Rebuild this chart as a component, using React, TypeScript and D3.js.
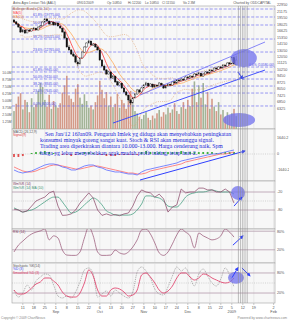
import React from "react";
import * as d3 from "d3";

// ---- calendar: one entry per week (label of its Monday, month caption, number of sessions)
const weekDays = ["", "11", "18", "25", "1", "8", "15", "22", "6", "13", "20", "27", "3", "10", "17", "24", "1", "8", "15", "22", "5", "12", "19", "", "2"];
const weekMonths = ["", "", "", "", "Sep", "", "", "", "Oct", "", "", "", "Nov", "", "", "", "Dec", "", "", "", "2009", "", "", "", "Feb"];
const weekSessions = [4, 5, 5, 5, 5, 5, 5, 5, 5, 5, 5, 5, 5, 5, 5, 5, 5, 5, 5, 5, 5, 5, 5, 4, 1];

// ---- daily prices [open, high, low, close]
const ohlc = [
  [19050, 19300, 18350, 18570], [18600, 18800, 17900, 18110], [18100, 18300, 17300, 17450], [17400, 17500, 16200, 16390],
  [16400, 17000, 16300, 16805], [16800, 16900, 16000, 16185], [16200, 16950, 16150, 16805], [16800, 17000, 16450, 16595],
  [16600, 17150, 16500, 17015], [17000, 17400, 16900, 17230], [17200, 17300, 16700, 16805], [16800, 17550, 16750, 17450],
  [17450, 17900, 17350, 17670], [17700, 18700, 17650, 18570], [18550, 19500, 18500, 19290], [19300, 19400, 18700, 18805],
  [18800, 18900, 18000, 18110], [18100, 18700, 18050, 18570], [18550, 18650, 17800, 17890], [17900, 18450, 17850, 18340],
  [18350, 18400, 17600, 17670], [17650, 17800, 17100, 17230], [17200, 17300, 16300, 16390], [16400, 16500, 15100, 15205],
  [15200, 15300, 13500, 13590], [13600, 13900, 13000, 13090], [13100, 13200, 12300, 12450], [12450, 12700, 12000, 12145],
  [12150, 12300, 11100, 11265], [11250, 11500, 10700, 10990], [11000, 11950, 10950, 11840], [11850, 12850, 11800, 12765],
  [12750, 13700, 12700, 13590], [13600, 14400, 13500, 14285], [14300, 14900, 14200, 14645], [14650, 14700, 13850, 13930],
  [13900, 14300, 13800, 14105], [14100, 14200, 13500, 13590], [13600, 13700, 13000, 13090], [13100, 13150, 11450, 11550],
  [11550, 11700, 10600, 10715], [10700, 10900, 10100, 10195], [10200, 10300, 9600, 9700], [9700, 10100, 9650, 9945],
  [9950, 10000, 9150, 9225], [9200, 9600, 9100, 9460], [9450, 9500, 8700, 8780], [8800, 8900, 8350, 8455],
  [8450, 8800, 8400, 8670], [8650, 8700, 8050, 8145], [8150, 8200, 7650, 7750], [7750, 7850, 7350, 7465],
  [7450, 7500, 6900, 7010], [7000, 7100, 6600, 6755], [6750, 7250, 6700, 7190], [7200, 7650, 7150, 7560],
  [7550, 8050, 7500, 7945], [7950, 8000, 7650, 7750], [7750, 8250, 7700, 8145], [8150, 8550, 8100, 8455],
  [8450, 8800, 8400, 8670], [8650, 8700, 8250, 8350], [8350, 8650, 8300, 8560], [8550, 8600, 8150, 8250],
  [8250, 8550, 8200, 8455], [8450, 8500, 8250, 8350], [8350, 8750, 8300, 8670], [8650, 8700, 8400, 8455],
  [8450, 8500, 8050, 8145], [8150, 8450, 8100, 8350], [8350, 8650, 8300, 8560], [8550, 8600, 8350, 8455],
  [8450, 8850, 8400, 8780], [8800, 8850, 8600, 8670], [8650, 9100, 8600, 9000], [9000, 9050, 8800, 8890],
  [8900, 9200, 8850, 9110], [9100, 9150, 8900, 9000], [9000, 9450, 8950, 9340], [9350, 9400, 9150, 9225],
  [9200, 9550, 9150, 9460], [9450, 9500, 9250, 9340], [9350, 9800, 9300, 9700], [9700, 9750, 9500, 9580],
  [9600, 9950, 9550, 9820], [9800, 9850, 9400, 9460], [9450, 9800, 9400, 9700], [9700, 10050, 9650, 9945],
  [9950, 10000, 9750, 9820], [9800, 10300, 9750, 10195], [10200, 10250, 10000, 10070], [10050, 10550, 10000, 10455],
  [10450, 10500, 10250, 10325], [10300, 10700, 10250, 10585], [10600, 10650, 10400, 10455], [10450, 10950, 10400, 10850],
  [10850, 10900, 10650, 10715], [10700, 11200, 10650, 11130], [11150, 11200, 10900, 10990], [11000, 12000, 10950, 11900],
  [11900, 12100, 10900, 11000], [10850, 12200, 10850, 11550],
];

// volume in millions of shares
const volume = [
  3.2, 4.5, 5.8, 6.4, 3.5, 5.2, 4.8, 3.0, 5.5, 3.9,
  4.4, 6.8, 8.2, 7.5, 5.2, 4.0, 6.1, 3.6, 5.0, 4.2,
  3.8, 4.6, 6.5, 7.8, 9.5, 6.0, 5.4, 4.8, 7.2, 8.0,
  5.6, 4.5, 6.2, 5.0, 3.8, 4.2, 3.5, 4.8, 6.0, 8.6,
  7.0, 5.5, 6.6, 4.2, 5.8, 3.9, 4.5, 6.3, 3.8, 5.2,
  4.6, 3.6, 5.0, 6.8, 4.4, 3.2, 2.8, 2.2, 1.8, 2.5,
  3.0, 2.0, 1.6, 2.4, 1.9, 2.8, 3.4, 2.2, 3.0, 2.6,
  3.8, 2.9, 3.5, 4.6, 3.2, 2.7, 3.9, 4.8, 3.6, 5.2,
  4.1, 7.2, 8.5, 4.8, 7.8, 5.6, 8.2, 4.4, 6.6, 3.6,
  5.4, 4.0, 3.2, 4.8, 2.6, 3.4, 2.2, 3.0, 2.4, 2.8,
  3.6, 2.3,
];

// indicators, read every second session
const macdLine = [-1640, -1845, -1950, -1845, -1740, -1540, -1330, -1130, -1025, -1025, -1130, -1330, -1435, -1640, -1640, -1435, -1230, -1130, -1130, -1330, -1435, -1640, -1740, -1845, -1845, -1950, -2050, -2050, -2150, -1845, -1640, -1540, -1435, -1330, -1230, -1130, -1025, -920, -720, -615, -510, -410, -310, -205, -100, 0, 0, 100, 205, 310, 410];
const signalLine = [-1330, -1540, -1740, -1845, -1845, -1740, -1540, -1435, -1230, -1130, -1130, -1230, -1330, -1435, -1540, -1540, -1435, -1330, -1230, -1230, -1330, -1435, -1540, -1640, -1740, -1845, -1950, -1950, -2050, -2050, -1950, -1740, -1640, -1540, -1435, -1330, -1230, -1130, -1025, -820, -720, -615, -510, -410, -310, -205, -100, 0, 0, 100, 205];
const wmR = [-77, -80, -87, -83, -67, -50, -43, -37, -23, -17, -67, -98, -97, -93, -80, -57, -40, -23, -40, -80, -98, -93, -98, -95, -99, -93, -90, -67, -33, -13, -20, -23, -37, -27, -43, -87, -70, -63, -10, -23, -20, -20, -7, -7, -13, -13, -20, -20, -10, -20, -57];
const wmRMa = [-73, -80, -87, -83, -80, -73, -63, -53, -43, -37, -37, -53, -73, -90, -87, -77, -63, -50, -40, -47, -63, -83, -90, -97, -97, -97, -97, -93, -80, -60, -33, -33, -37, -40, -50, -67, -70, -70, -57, -37, -27, -23, -20, -20, -17, -13, -17, -20, -20, -20, -27];
const rsi = [13, 35, 48, 61, 71, 77, 81, 87, 52, 65, 58, 19, 3, 2, 2, 13, 58, 94, 65, 13, 2, 2, 3, 19, 10, 6, 13, 29, 52, 84, 87, 71, 42, 10, 2, 13, 39, 68, 87, 77, 65, 26, 74, 65, 58, 52, 55, 65, 87, 77, 61];
const stochK = [29, 8, 20, 44, 29, 56, 68, 77, 74, 44, 11, 5, 11, 5, 23, 53, 89, 95, 77, 8, 17, 26, 11, 29, 20, 11, 5, 23, 83, 98, 86, 65, 32, 17, 14, 38, 71, 98, 86, 95, 68, 41, 77, 92, 71, 50, 41, 62, 95, 74, 38];
const stochD = [29, 17, 17, 23, 35, 47, 53, 65, 65, 56, 44, 23, 11, 8, 8, 20, 50, 89, 71, 29, 11, 11, 29, 35, 32, 23, 11, 14, 29, 74, 80, 68, 50, 29, 20, 26, 41, 65, 80, 80, 68, 59, 65, 77, 74, 65, 59, 53, 50, 53, 65];

const priceTicks = [22950, 21175, 19550, 18025, 16625, 15350, 14150, 13050, 12050, 11125, 10250, 9450, 8725, 8050, 7425, 6850, 6325];
const volTicks = [1.25, 2.5, 3.75, 5, 6.25, 7.5, 8.75, 10];
const fibPrices = [21850, 19775, 17890, 15015, 12765, 10580, 9945, 9110, 8345, 7645, 6505];
const fibNames = ["", "61.8%", "50.0%", "38.2%", "23.6%", "0.0%", "61.8%", "50.0%", "38.2%", "23.6%", "0.0%"];

const noteLines = [
  "Sen Jan/12 16Jan09. Pengaruh Imlek yg diduga akan menyebabkan peningkatan",
  "konsumsi minyak goreng sangat kuat. Stoch & RSI akan menunggu signal.",
  "Trading area diperkirakan diantara 10.000-13.000. Harga cenderung naik. Spm",
  "harga yg lebar menyebabkan agak mudah profit taking, tetap hati-2.",
];

// user drawn annotations, in data units (session, value)
const markedSessions = [102, 103, 104, 105, 106];
const channelUpper = [[57.3, 7455], [114.1, 14465]];
const channelLower = [[45, 5255], [114.1, 10193]];
const priceArrow = [[101.8, 9945], [104.1, 9110]];
const macdArrow = [[57.3, -2665], [105, 307]];
const wmrArrow = [[100, -67], [103.6, -37]];
const rsiArrow = [[99.5, 35], [104.1, 65]];
const stochArrows = [[[99.1, 66], [101.8, 96]], [[103.6, 95], [107.3, 71]]];

const L = 12, R = 275;
const P = { price: [6, 129], macd: [129, 181], wmr: [181, 229], rsi: [229, 263], stoch: [263, 303] };
const FONT = "Liberation Sans, Arial, sans-serif";
const BLUE = "#3040ff";
const BLOB = "#7070ee";

export default function App() {
  const weekStart = weekSessions.map((_, k) => d3.sum(weekSessions.slice(0, k)));
  const last = weekStart[weekStart.length - 1];
  const x = d3.scaleLinear().domain([0, last]).range([14, 273.6]);
  const y = d3.scaleLog().domain([5500, 23000]).range([119.4, 4.9]);
  const vy = d3.scaleLinear().domain([0, 10]).range([129, 73]);
  const my = d3.scaleLinear().domain([-1640.2, 1640.2]).range([170, 138]);
  const wy = d3.scaleLinear().domain([-100, 0]).range([216, 186]);
  const ry = d3.scaleLinear().domain([0, 100]).range([256, 225]);
  const sy = d3.scaleLinear().domain([0, 100]).range([299.7, 266.3]);

  const closes = ohlc.map((d) => d[3]);
  const sma = (n: number) => closes.map((_, i) => d3.mean(closes.slice(Math.max(0, i - n + 1), i + 1)) as number);
  const ma5 = sma(5);
  const ma20 = sma(10);
  const bands = closes.map((_, i) => {
    const w = closes.slice(Math.max(0, i - 19), i + 1);
    const m = d3.mean(w) as number;
    const s = d3.deviation(w) ?? 0;
    return [m + 2 * s, m - 2 * s];
  });

  const dailyLine = (sc: any) => d3.line<number>().x((_, i) => x(i)).y((v) => sc(v));
  const sampled = (sc: any, curve: any = d3.curveLinear) =>
    d3.line<number>().x((_, k) => x(k * 2)).y((v) => sc(v)).curve(curve);

  const seg = (pts: number[][], sc: any, key: string, w = 0.9) => (
    <line key={key} x1={x(pts[0][0])} y1={sc(pts[0][1])} x2={x(pts[1][0])} y2={sc(pts[1][1])}
      stroke={BLUE} strokeWidth={w} markerEnd="url(#arrow)" />
  );

  const panelBox = (key: string, [t, b]: number[]) => (
    <g key={key}>
      <rect x={L} y={t} width={R - L} height={b - t} fill="#f7f7f7" stroke="#a0a0a0" strokeWidth={0.6} />
      {weekStart.map((s, k) =>
        weekDays[k] ? <line key={k} x1={x(s)} x2={x(s)} y1={t} y2={b} stroke="#dadada" strokeWidth={0.5} /> : null
      )}
    </g>
  );

  const hLine = (v: number, sc: any, key: string, dotted = false) => (
    <line key={key} x1={L} x2={R} y1={sc(v)} y2={sc(v)} stroke={dotted ? "#b8b8b8" : "#b49aac"}
      strokeWidth={dotted ? 0.6 : 0.8} strokeDasharray={dotted ? "1,1.2" : undefined} />
  );

  const axisText = (v: string, yy: number, key: string) => (
    <text key={key} x={277} y={yy + 1.3} fontSize={3.7} fill="#555">{v}</text>
  );

  const hist = macdLine.map((m, k) => m - signalLine[k]);

  return (
    <svg width={289} height={320} style={{ position: "absolute", left: 0, top: 0, background: "#fff" }} fontFamily={FONT}>
      <defs>
        {Object.entries(P).map(([k, [t, b]]) => (
          <clipPath id={"clip-" + k} key={k}>
            <rect x={L} y={t} width={R - L} height={b - t} />
          </clipPath>
        ))}
        <marker id="arrow" viewBox="0 0 10 10" refX="8" refY="5" markerWidth="4" markerHeight="4" orient="auto">
          <path d="M0,0 L10,5 L0,10 z" fill={BLUE} />
        </marker>
      </defs>

      {/* title row */}
      <g fontSize={3.3} fill="#555">
        <text x={13} y={4.4}>Astra Agro Lestari Tbk (AALI)</text>
        <text x={77} y={4.4}>09/01/2009</text>
        <text x={107} y={4.4}>Op 10850</text>
        <text x={128} y={4.4}>Hi 12200</text>
        <text x={145} y={4.4}>Lo 10850</text>
        <text x={162} y={4.4}>Cl 11550</text>
        <text x={183} y={4.4}>Vo 2.3M</text>
        <text x={271} y={4.4} textAnchor="end">Charted by ODDCAPITAL</text>
      </g>

      {Object.entries(P).map(([k, r]) => panelBox(k, r))}

      {/* ---------- price panel ---------- */}
      <g clipPath="url(#clip-price)">
        {volume.map((v, i) => (
          <rect key={i} x={x(i) - 0.8} width={1.6} y={vy(v)} height={vy(0) - vy(v)}
            fill={i > 0 && closes[i] < closes[i - 1] ? "#d49a88" : "#a3b497"} />
        ))}
        {fibPrices.map((p, k) => (
          <line key={k} x1={L} x2={R} y1={y(p)} y2={y(p)} stroke="#7070f0" strokeWidth={0.7} strokeDasharray="3,1.6" />
        ))}
        {fibPrices.map((p, k) =>
          fibNames[k] ? (
            <text key={"t" + k} x={k === 5 ? 249 : 33} y={y(p) - 0.9} fontSize={3.4} fill="#4848e8">
              {`${fibNames[k]} (${p.toFixed(2)})`}
            </text>
          ) : null
        )}
        <path d={dailyLine(y)(bands.map((b) => b[0]).slice(3)) as string} transform={`translate(${x(3) - x(0)},0)`}
          fill="none" stroke="#e0a070" strokeWidth={0.7} strokeDasharray="0.8,1.1" />
        <path d={dailyLine(y)(bands.map((b) => b[1]).slice(3)) as string} transform={`translate(${x(3) - x(0)},0)`}
          fill="none" stroke="#e0a070" strokeWidth={0.7} strokeDasharray="0.8,1.1" />
        <path d={dailyLine(y)(ma20) as string} fill="none" stroke="#ffab5a" strokeWidth={0.8} />
        <path d={dailyLine(y)(ma5) as string} fill="none" stroke="#ff3b3b" strokeWidth={0.8} />
        {ohlc.map((d, i) => {
          const up = d[3] >= d[0];
          const top = Math.min(y(d[0]), y(d[3]));
          return (
            <g key={i}>
              <line x1={x(i)} x2={x(i)} y1={y(d[1])} y2={y(d[2])} stroke="#111" strokeWidth={0.5} />
              <rect x={x(i) - 0.8} width={1.6} y={top} height={Math.max(0.6, Math.abs(y(d[0]) - y(d[3])))}
                fill={up ? "#fff" : "#111"} stroke="#111" strokeWidth={0.35} />
            </g>
          );
        })}
        <line x1={x(channelUpper[0][0])} y1={y(channelUpper[0][1])} x2={x(channelUpper[1][0])} y2={y(channelUpper[1][1])} stroke="#6a6af8" strokeWidth={0.8} />
        <line x1={x(channelLower[0][0])} y1={y(channelLower[0][1])} x2={x(channelLower[1][0])} y2={y(channelLower[1][1])} stroke={BLUE} strokeWidth={0.9} />
        <ellipse cx={x(104.5)} cy={y(11840)} rx={13} ry={9} fill={BLOB} opacity={0.75} />
        <ellipse cx={x(102.3)} cy={vy(1.6)} rx={16} ry={7} fill={BLOB} opacity={0.75} />
        {seg(priceArrow, y, "pa", 1.1)}
      </g>
      <g fontSize={3.3}>
        <text x={13} y={9.5} fill="#c07040">Bollinger Bands (20, 2.0)</text>
        <text x={13} y={13.5} fill="#ff3b3b">MA(5)</text>
        <text x={13} y={17.5} fill="#f09040">MA(20)</text>
      </g>
      {priceTicks.map((p) => axisText(String(p), y(p), "p" + p))}
      {volTicks.map((v) => (
        <text key={"v" + v} x={11.5} y={vy(v) + 1.2} fontSize={3.3} fill="#555" textAnchor="end">
          {v === 10 ? "10.0M" : v.toFixed(2) + "M"}
        </text>
      ))}

      {/* ---------- MACD panel ---------- */}
      <g clipPath="url(#clip-macd)">
        {hLine(0, my, "m0", true)}
        {hist.map((h, k) => (
          <rect key={k} x={x(k * 2) - 0.9} width={1.8} y={Math.min(my(0), my(h))} height={Math.abs(my(h) - my(0))}
            fill={h >= 0 ? "#40b040" : "#e05050"} />
        ))}
        <path d={sampled(my)(signalLine) as string} fill="none" stroke="#ff6a6a" strokeWidth={0.8} />
        <path d={sampled(my)(macdLine) as string} fill="none" stroke="#5a6aff" strokeWidth={0.8} />
        {seg(macdArrow, my, "ma", 1)}
      </g>
      <g fontSize={3.3}>
        <text x={13} y={132.5} fill="#555">MACD (26,12,9)</text>
        <text x={13} y={136.3} fill="#e04040">Signal(9)</text>
      </g>
      <g fontFamily="Liberation Serif, Times New Roman, serif" fontSize={5.8} fill="#1a28d8">
        {noteLines.map((t, k) => (
          <text key={k} x={k === 0 ? 45 : 40} y={135.5 + k * 6.4}>{t}</text>
        ))}
      </g>
      {axisText("1640.2", my(1640.2), "m1")}
      {axisText("0", my(0), "m2")}
      {axisText("-1640.2", my(-1640.2), "m3")}

      {/* ---------- Williams %R ---------- */}
      <g clipPath="url(#clip-wmr)">
        {hLine(-20, wy, "w1")}
        {hLine(-50, wy, "w2", true)}
        {hLine(-80, wy, "w3")}
        <path d={sampled(wy, d3.curveMonotoneX)(wmRMa) as string} fill="none" stroke="#4aa184" strokeWidth={0.8} />
        <path d={sampled(wy)(wmR) as string} fill="none" stroke="#8e4c6c" strokeWidth={0.75} />
        <circle cx={x(101.8)} cy={wy(-23)} r={7} fill={BLOB} opacity={0.75} />
        {seg(wmrArrow, wy, "wa", 1)}
      </g>
      <g fontSize={3.3}>
        <text x={13} y={185} fill="#7a3a5a">Wm%R (14)</text>
        <text x={13} y={188.6} fill="#3a9070">Wm%R (14) MA (10)</text>
      </g>
      {axisText("-20", wy(-20), "w-20")}
      {axisText("-80", wy(-80), "w-80")}

      {/* ---------- RSI ---------- */}
      <g clipPath="url(#clip-rsi)">
        {hLine(80, ry, "r1")}
        {hLine(20, ry, "r2")}
        <path d={sampled(ry, d3.curveMonotoneX)(rsi) as string} fill="none" stroke="#9a5878" strokeWidth={0.75} />
        {seg(rsiArrow, ry, "ra", 1)}
      </g>
      <text x={13} y={233} fontSize={3.3} fill="#7a3a5a">RSI (14)</text>
      {axisText("80%", ry(80), "r80")}
      {axisText("20%", ry(20), "r20")}

      {/* ---------- Stochastic ---------- */}
      <g clipPath="url(#clip-stoch)">
        {hLine(80, sy, "s1")}
        {hLine(50, sy, "s2", true)}
        {hLine(20, sy, "s3")}
        <path d={sampled(sy, d3.curveMonotoneX)(stochK) as string} fill="none" stroke="#8a8a8a" strokeWidth={0.7} strokeDasharray="1,0.9" />
        <path d={sampled(sy, d3.curveMonotoneX)(stochD) as string} fill="none" stroke="#e0406a" strokeWidth={0.85} />
        <ellipse cx={x(100.9)} cy={sy(66)} rx={8} ry={6} fill={BLOB} opacity={0.75} />
        {stochArrows.map((a, k) => seg(a, sy, "sa" + k, 1))}
      </g>
      <g fontSize={3.3}>
        <text x={13} y={266.5} fill="#555">Stochastic %K(14)</text>
        <text x={13} y={270.3} fill="#3344ee">%D (3)</text>
        <text x={13} y={274.1} fill="#e0406a">Smoothed %D (3)</text>
      </g>
      {axisText("80%", sy(80), "s80")}
      {axisText("20%", sy(20), "s20")}

      {/* user vertical markers across all panels */}
      {markedSessions.map((s) => (
        <line key={"mk" + s} x1={x(s)} x2={x(s)} y1={P.price[0]} y2={P.stoch[1]} stroke="#8a8a8a" strokeWidth={0.55} />
      ))}

      {/* x axis */}
      <g fontSize={3.8} fill="#555" textAnchor="middle">
        {weekStart.map((s, k) =>
          weekDays[k] ? (
            <g key={k}>
              <line x1={x(s)} x2={x(s)} y1={303} y2={305} stroke="#999" strokeWidth={0.5} />
              <text x={x(s)} y={308.5}>{weekDays[k]}</text>
              {weekMonths[k] ? <text x={x(s)} y={313}>{weekMonths[k]}</text> : null}
            </g>
          ) : null
        )}
      </g>
      <text x={1} y={319} fontSize={3.3} fill="#888">Copyright © 2009 ChartNexus</text>
      <text x={287} y={319} fontSize={3.3} fill="#888" textAnchor="end">Powered by www.chartnexus.com</text>
    </svg>
  );
}
